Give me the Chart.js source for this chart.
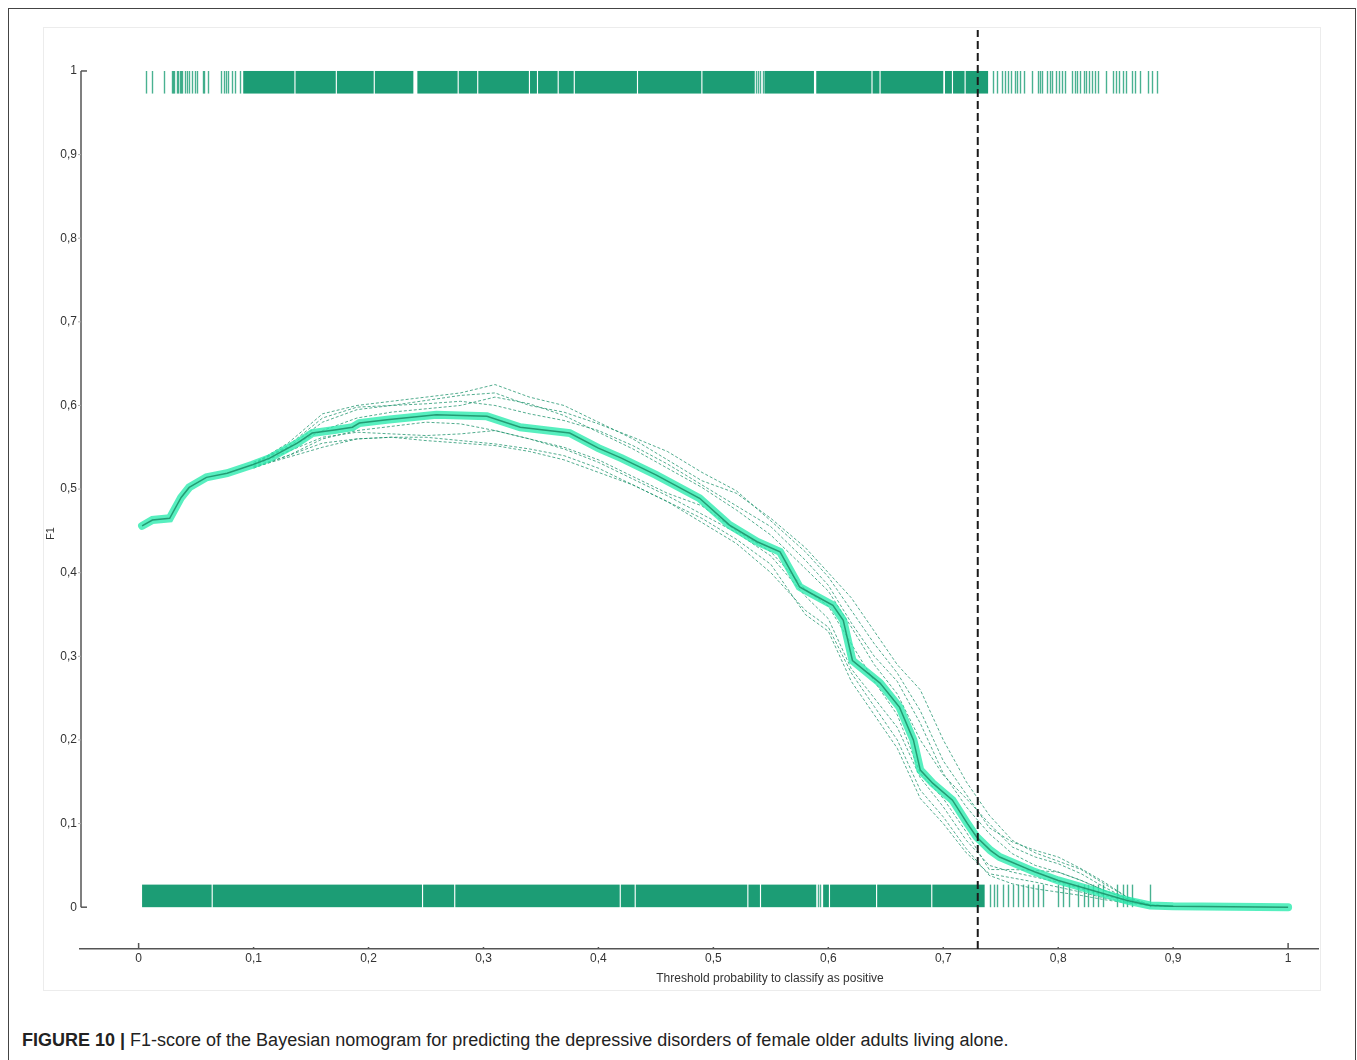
<!DOCTYPE html>
<html>
<head>
<meta charset="utf-8">
<script src="https://cdn.jsdelivr.net/npm/chart.js@4.4.1/dist/chart.umd.min.js"></script>
<style>
  body { margin: 0; width: 1357px; height: 1060px; background: #fff; overflow: hidden; position: relative; font-family: "Liberation Sans", Arial, sans-serif; }
  .frame { position: absolute; left: 8px; top: 8px; width: 1346px; height: 1100px; border: 1.5px solid #444; border-bottom: none; }
  .panel { position: absolute; left: 44px; top: 28px; width: 1276px; height: 962px; box-shadow: 0 0 0 1px #ececec; }
  canvas { position: absolute; left: 0; top: 0; }
  .caption { position: absolute; left: 22px; top: 1030px; font-size: 18px; color: #222; white-space: nowrap; }
  .caption b { font-weight: bold; }
</style>
</head>
<body>
<div class="frame"></div>
<div class="panel"><canvas id="f1Chart" width="1276" height="962"></canvas></div>
<div class="caption"><b>FIGURE 10 |</b> F1-score of the Bayesian nomogram for predicting the depressive disorders of female older adults living alone.</div>
<script>
// mean F1 curve
const thresholdX = [0.003, 0.012, 0.027, 0.037, 0.044, 0.059, 0.077, 0.099, 0.114, 0.138, 0.151, 0.172, 0.186, 0.192, 0.216, 0.259, 0.303, 0.332, 0.375, 0.4, 0.42, 0.45, 0.488, 0.514, 0.538, 0.558, 0.575, 0.584, 0.604, 0.613, 0.621, 0.645, 0.662, 0.674, 0.68, 0.691, 0.708, 0.721, 0.729, 0.741, 0.749, 0.78, 0.8, 0.83, 0.86, 0.88, 0.9, 0.95, 1.0];
const meanF1 = [0.456, 0.463, 0.465, 0.49, 0.502, 0.514, 0.519, 0.529, 0.537, 0.555, 0.567, 0.571, 0.574, 0.579, 0.583, 0.589, 0.587, 0.574, 0.567, 0.549, 0.537, 0.517, 0.489, 0.457, 0.437, 0.425, 0.383, 0.376, 0.361, 0.343, 0.295, 0.268, 0.239, 0.2, 0.164, 0.148, 0.128, 0.1, 0.084, 0.068, 0.06, 0.042, 0.032, 0.02, 0.008, 0.002, 0.001, 0.0005, 0];

// individual runs (dashed)
const runX = [0.1, 0.13, 0.16, 0.19, 0.22, 0.25, 0.28, 0.31, 0.34, 0.37, 0.4, 0.43, 0.46, 0.49, 0.52, 0.55, 0.58, 0.6, 0.62, 0.64, 0.66, 0.68, 0.7, 0.72, 0.74, 0.76, 0.78, 0.8, 0.82, 0.84, 0.86, 0.88, 0.9];
const run1 = [0.53, 0.555, 0.59, 0.6, 0.605, 0.61, 0.615, 0.625, 0.61, 0.6, 0.58, 0.56, 0.535, 0.51, 0.495, 0.465, 0.43, 0.40, 0.37, 0.33, 0.29, 0.26, 0.2, 0.15, 0.11, 0.08, 0.065, 0.055, 0.045, 0.028, 0.012, 0.003, 0.001];
const run2 = [0.525, 0.54, 0.555, 0.56, 0.562, 0.558, 0.555, 0.552, 0.545, 0.535, 0.52, 0.505, 0.485, 0.465, 0.44, 0.41, 0.35, 0.33, 0.27, 0.23, 0.19, 0.13, 0.1, 0.065, 0.04, 0.035, 0.03, 0.024, 0.018, 0.011, 0.006, 0.002, 0.001];
const run3 = [0.53, 0.55, 0.58, 0.595, 0.6, 0.602, 0.605, 0.6, 0.59, 0.582, 0.57, 0.552, 0.53, 0.505, 0.48, 0.455, 0.415, 0.385, 0.34, 0.3, 0.27, 0.22, 0.16, 0.12, 0.088, 0.064, 0.05, 0.042, 0.032, 0.02, 0.01, 0.003, 0.001];
const run4 = [0.527, 0.54, 0.56, 0.57, 0.575, 0.58, 0.578, 0.57, 0.56, 0.55, 0.535, 0.515, 0.495, 0.48, 0.45, 0.425, 0.38, 0.36, 0.315, 0.27, 0.23, 0.16, 0.13, 0.09, 0.045, 0.045, 0.044, 0.042, 0.032, 0.02, 0.01, 0.003, 0.001];
const run5 = [0.532, 0.55, 0.57, 0.585, 0.592, 0.596, 0.6, 0.61, 0.602, 0.588, 0.568, 0.548, 0.525, 0.502, 0.475, 0.445, 0.405, 0.378, 0.335, 0.29, 0.255, 0.2, 0.158, 0.13, 0.1, 0.072, 0.06, 0.052, 0.04, 0.024, 0.01, 0.002, 0.001];
const run6 = [0.528, 0.545, 0.562, 0.568, 0.566, 0.564, 0.566, 0.57, 0.56, 0.548, 0.532, 0.512, 0.492, 0.47, 0.448, 0.42, 0.372, 0.345, 0.285, 0.25, 0.215, 0.155, 0.12, 0.08, 0.05, 0.042, 0.036, 0.03, 0.022, 0.014, 0.007, 0.002, 0.001];
const run7 = [0.53, 0.552, 0.585, 0.598, 0.6, 0.606, 0.612, 0.615, 0.6, 0.592, 0.578, 0.562, 0.545, 0.52, 0.498, 0.462, 0.425, 0.395, 0.355, 0.315, 0.28, 0.235, 0.175, 0.135, 0.095, 0.078, 0.068, 0.06, 0.046, 0.03, 0.012, 0.003, 0.001];
const run8 = [0.526, 0.538, 0.55, 0.56, 0.562, 0.562, 0.558, 0.554, 0.548, 0.54, 0.525, 0.505, 0.485, 0.46, 0.435, 0.4, 0.355, 0.335, 0.28, 0.24, 0.2, 0.14, 0.108, 0.07, 0.038, 0.028, 0.022, 0.018, 0.014, 0.009, 0.005, 0.002, 0.001];

const cutoff = 0.73;

// rug of predicted probabilities: positives (top) and negatives (bottom)
const posBands = [[0.091, 0.1355], [0.1365, 0.1715], [0.1725, 0.2045], [0.2055, 0.239], [0.2425, 0.2775], [0.2785, 0.2945], [0.2955, 0.3395], [0.3405, 0.3465], [0.3475, 0.3645], [0.3655, 0.3785], [0.3795, 0.4335], [0.4345, 0.4895], [0.4905, 0.536], [0.5445, 0.5875], [0.5895, 0.6375], [0.6385, 0.6445], [0.6455, 0.700], [0.7015, 0.7075], [0.7085, 0.7185], [0.7195, 0.739]];
const posTicks = [0.006, 0.012, 0.022, 0.029, 0.030, 0.031, 0.033, 0.034, 0.036, 0.037, 0.038, 0.040, 0.042, 0.044, 0.046, 0.049, 0.051, 0.056, 0.057, 0.060, 0.072, 0.074, 0.076, 0.078, 0.081, 0.084, 0.088, 0.537, 0.539, 0.541, 0.543, 0.743, 0.747, 0.751, 0.754, 0.756, 0.759, 0.762, 0.764, 0.767, 0.770, 0.777, 0.782, 0.784, 0.786, 0.790, 0.793, 0.795, 0.798, 0.801, 0.803, 0.806, 0.812, 0.815, 0.816, 0.819, 0.822, 0.824, 0.827, 0.829, 0.832, 0.835, 0.842, 0.848, 0.850, 0.853, 0.856, 0.859, 0.864, 0.867, 0.871, 0.878, 0.882, 0.886];
const negBands = [[0.003, 0.0635], [0.0645, 0.2465], [0.2475, 0.2745], [0.2755, 0.4185], [0.4195, 0.4315], [0.4325, 0.5295], [0.5305, 0.5405], [0.5415, 0.5895], [0.5955, 0.6005], [0.6015, 0.6415], [0.6425, 0.6895], [0.6905, 0.736]];
const negTicks = [0.591, 0.593, 0.741, 0.744, 0.747, 0.752, 0.756, 0.761, 0.765, 0.769, 0.774, 0.778, 0.782, 0.787, 0.800, 0.804, 0.809, 0.817, 0.822, 0.826, 0.830, 0.835, 0.839, 0.851, 0.856, 0.860, 0.864, 0.880];

const xTicks = [0, 0.1, 0.2, 0.3, 0.4, 0.5, 0.6, 0.7, 0.8, 0.9, 1];
const yTicks = [0, 0.1, 0.2, 0.3, 0.4, 0.5, 0.6, 0.7, 0.8, 0.9, 1];
const xTitle = "Threshold probability to classify as positive";
const yTitle = "F1";

const rugColor = "rgba(28, 157, 117, 1)";
const tickColor = "rgba(28, 157, 117, 0.8)";
const axisColor = "#555";
const fontFamily = "'Liberation Sans Narrow', 'Liberation Sans', Arial";
const labelFont = { family: fontFamily, size: 12 };

const toPoints = (xs, ys) => xs.map((x, i) => ({ x, y: ys[i] }));
const fmt = (v) => String(Math.round(v * 10) / 10).replace(".", ",");

const rugPlugin = {
  id: "rug",
  beforeDatasetsDraw(chart) {
    const { ctx, scales: { x, y } } = chart;
    const drawRug = (bands, ticks, v0, v1) => {
      const top = y.getPixelForValue(v1);
      const bottom = y.getPixelForValue(v0);
      ctx.fillStyle = rugColor;
      bands.forEach(([a, b]) => {
        const x0 = x.getPixelForValue(a);
        ctx.fillRect(x0, top, x.getPixelForValue(b) - x0, bottom - top);
      });
      ctx.strokeStyle = tickColor;
      ctx.lineWidth = 1.4;
      ticks.forEach((t) => {
        const px = Math.round(x.getPixelForValue(t)) + 0.5;
        ctx.beginPath();
        ctx.moveTo(px, top);
        ctx.lineTo(px, bottom);
        ctx.stroke();
      });
    };
    ctx.save();
    drawRug(posBands, posTicks, 0.973, 1.0);
    drawRug(negBands, negTicks, 0, 0.027);
    ctx.restore();
  },
  afterDraw(chart) {
    const { ctx, chartArea, scales: { x, y } } = chart;
    ctx.save();
    ctx.strokeStyle = axisColor;
    ctx.lineWidth = 1.5;
    // y spine only between 0 and 1
    const sx = chartArea.left + 1;
    ctx.beginPath();
    ctx.moveTo(sx, y.getPixelForValue(1));
    ctx.lineTo(sx, y.getPixelForValue(0));
    ctx.stroke();
    yTicks.forEach((v) => {
      const py = y.getPixelForValue(v);
      ctx.beginPath();
      if (v === 0 || v === 1) {
        ctx.moveTo(sx, py);
        ctx.lineTo(sx + 6, py);
      } else {
        ctx.lineWidth = 1;
        ctx.strokeStyle = "#aaa";
        ctx.moveTo(sx - 3, py);
        ctx.lineTo(sx, py);
      }
      ctx.stroke();
      ctx.lineWidth = 1.5;
      ctx.strokeStyle = axisColor;
    });
    xTicks.forEach((v) => {
      const px = x.getPixelForValue(v);
      const len = v === 0 || v === 1 ? 6 : 2;
      ctx.beginPath();
      ctx.moveTo(px, chartArea.bottom);
      ctx.lineTo(px, chartArea.bottom - len);
      ctx.stroke();
    });

    // axis titles (offset from centre as in the original figure)
    ctx.fillStyle = "#333";
    ctx.textAlign = "center";
    ctx.textBaseline = "middle";
    ctx.font = `12px ${fontFamily}`;
    ctx.fillText(xTitle, (chartArea.left + chartArea.right) / 2 + 71, chartArea.bottom + 30);
    ctx.translate(7, (chartArea.top + chartArea.bottom) / 2 + 44);
    ctx.rotate(-Math.PI / 2);
    ctx.font = `11px ${fontFamily}`;
    ctx.fillText(yTitle, 0, 0);
    ctx.restore();
  },
};

const runs = [run1, run2, run3, run4, run5, run6, run7, run8];

const datasets = [
  {
    data: [{ x: cutoff, y: -0.05 }, { x: cutoff, y: 1.05 }],
    borderColor: "#1a1a1a",
    borderWidth: 2,
    borderDash: [8, 4],
  },
  {
    data: toPoints(thresholdX, meanF1),
    borderColor: "rgba(22, 135, 98, 0.8)",
    borderWidth: 1.5,
  },
  {
    data: toPoints(thresholdX, meanF1),
    borderColor: "rgba(45, 235, 175, 0.8)",
    borderWidth: 8,
    borderCapStyle: "round",
  },
  ...runs.map((run) => ({
    data: toPoints(runX, run),
    borderColor: "rgba(25, 145, 105, 0.75)",
    borderWidth: 1,
    borderDash: [3, 2],
  })),
];

new Chart(document.getElementById("f1Chart"), {
  type: "scatter",
  data: { datasets },
  options: {
    responsive: false,
    animation: false,
    devicePixelRatio: 1,
    showLine: true,
    elements: { point: { radius: 0 }, line: { tension: 0 } },
    layout: { padding: { left: 0, right: 2, top: 2, bottom: 0 } },
    plugins: { legend: { display: false }, tooltip: { enabled: false } },
    scales: {
      x: {
        type: "linear",
        min: -0.051,
        max: 1.026,
        afterBuildTicks: (s) => { s.ticks = xTicks.map((v) => ({ value: v })); },
        afterFit: (s) => { s.height = 41; s.paddingLeft = 0; s.paddingRight = 0; },
        ticks: { callback: fmt, font: labelFont, color: "#333", padding: 2, maxRotation: 0, autoSkip: false },
        grid: { display: false, drawTicks: false },
        border: { display: true, color: axisColor, width: 1.5 },
      },
      y: {
        type: "linear",
        min: -0.05,
        max: 1.049,
        afterBuildTicks: (s) => { s.ticks = yTicks.map((v) => ({ value: v })); },
        afterFit: (s) => { s.width = 36; s.paddingTop = 0; s.paddingBottom = 0; },
        ticks: { callback: fmt, font: labelFont, color: "#333", padding: 3 },
        grid: { display: false, drawTicks: false },
        border: { display: false },
      },
    },
  },
  plugins: [rugPlugin],
});
</script>
</body>
</html>
